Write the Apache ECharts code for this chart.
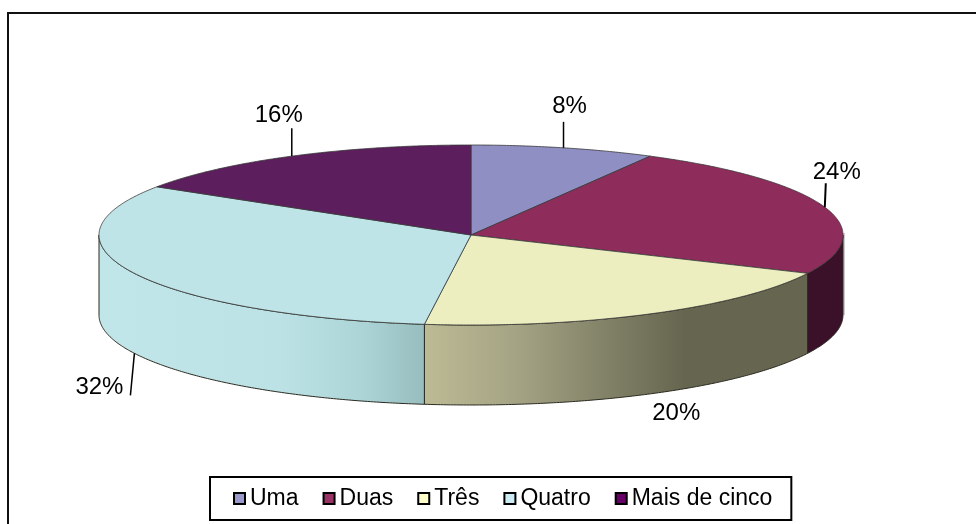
<!DOCTYPE html>
<html><head><meta charset="utf-8">
<style>html,body{margin:0;padding:0;background:#fff}#c{width:976px;height:524px}</style>
<script src="https://cdn.jsdelivr.net/npm/echarts@6/dist/echarts.min.js"></script>
</head><body><div id="c"></div>
<script>
const categories = ['Uma', 'Duas', 'Três', 'Quatro', 'Mais de cinco'];
const shares = [8, 24, 20, 32, 16];
const topColors = ['#8F8FC4', '#8E2C5C', '#EDEEC0', '#BFE4E8', '#5C1E5C'];
const legendColors = ['#9999CC', '#993366', '#FFFFCC', '#CCECF4', '#660066'];

const PIE = {cx: 471, cy: 235, rx: 372, ry: 90, depth: 80};
const total = shares.reduce((a, b) => a + b, 0);
const pt = (deg, drop) => {
  const r = deg * Math.PI / 180;
  return [PIE.cx + PIE.rx * Math.sin(r), PIE.cy - PIE.ry * Math.cos(r) + (drop || 0)];
};
const arc = (a, b, drop) => {
  const out = [];
  const n = Math.max(2, Math.ceil(Math.abs(b - a) * 2));
  for (let i = 0; i <= n; i++) out.push(pt(a + (b - a) * i / n, drop));
  return out;
};
const grad = stops => ({type: 'linear', x: 0, y: 0, x2: 1, y2: 0,
  colorStops: stops.map(s => ({offset: s[0], color: s[1]}))});
const sideFill = [
  null,
  '#3B1029',
  grad([[0, '#BDBB95'], [0.25, '#A3A283'], [0.5, '#7E7E65'], [0.68, '#666650'], [1, '#666650']]),
  grad([[0, '#C1E6EA'], [0.55, '#BCE2E6'], [0.8, '#ADD5D7'], [1, '#97BDBE']]),
  null
];
// label placement relative to each slice's rim anchor: [leader dx, leader dy, label dx, label dy]
const labelPlace = [
  [0, -26, 6, -41],
  [1, -24, 12, -35],
  null,
  [-4, 42, -35, 34],
  [0, -28, -13, -41]
];
const noLeaderLabel = {2: [26, 20]};

function renderSlice(params, api) {
  const i = params.seriesIndex;
  const before = shares.slice(0, i).reduce((a, b) => a + b, 0);
  const start = before / total * 360;
  const end = start + api.value(0) / total * 360;
  const mid = (start + end) / 2;
  const children = [];
  const s = Math.max(start, 90), e = Math.min(end, 270);
  if (e > s) {
    if (start < 90) {
      const r0 = pt(90, 0);
      children.push({type: 'line', shape: {x1: r0[0] + 1, y1: r0[1] - 2, x2: r0[0] + 1, y2: r0[1] + PIE.depth},
        style: {stroke: '#BDBDBD', lineWidth: 1.5}});
    }
    const pts = arc(s, e, 0).concat(arc(e, s, PIE.depth));
    children.push({type: 'polygon', shape: {points: pts},
      style: {fill: sideFill[i], stroke: '#2a2a20', lineWidth: 1}});
  }
  children.push({type: 'polygon', shape: {points: [[PIE.cx, PIE.cy]].concat(arc(start, end, 0))},
    style: {fill: topColors[i], stroke: '#3a3a3a', lineWidth: 0.8}});
  const front = mid > 90 && mid < 270;
  const a = pt(mid, front ? PIE.depth : 0);
  const pct = Math.round(api.value(0) / total * 100) + '%';
  let lx, ly;
  const p = labelPlace[i];
  if (p) {
    children.push({type: 'line', shape: {x1: a[0], y1: a[1], x2: a[0] + p[0], y2: a[1] + p[1]},
      style: {stroke: '#000', lineWidth: i === 1 ? 2 : 1.5}});
    lx = a[0] + p[2]; ly = a[1] + p[3];
  } else {
    lx = a[0] + noLeaderLabel[i][0]; ly = a[1] + noLeaderLabel[i][1];
  }
  children.push({type: 'text', x: lx, y: ly,
    style: {text: pct, fill: '#000', font: '24px "Liberation Sans"', align: 'center', verticalAlign: 'middle'}});
  return {type: 'group', children};
}

const chart = echarts.init(document.getElementById('c'), null, {renderer: 'canvas'});
chart.setOption({
  animation: false,
  backgroundColor: '#fff',
  graphic: [{type: 'polyline', z: 0, silent: true,
    shape: {points: [[8, 524], [8, 13], [976, 13]]},
    style: {fill: 'none', stroke: '#111', lineWidth: 2}}],
  legend: {
    left: 210, top: 477, orient: 'horizontal',
    data: categories,
    icon: 'rect',
    padding: [10, 19, 10, 23], itemGap: 24, itemWidth: 11, itemHeight: 11,
    backgroundColor: '#fff', borderColor: '#000', borderWidth: 2, borderRadius: 0,
    textStyle: {fontFamily: 'Liberation Sans', fontSize: 23, color: '#000'},
    itemStyle: {borderColor: '#000', borderWidth: 2}
  },
  series: categories.map((name, i) => ({
    type: 'custom', name, coordinateSystem: 'none', renderItem: renderSlice,
    itemStyle: {color: legendColors[i]},
    data: [shares[i]]
  }))
});
</script></body></html>
